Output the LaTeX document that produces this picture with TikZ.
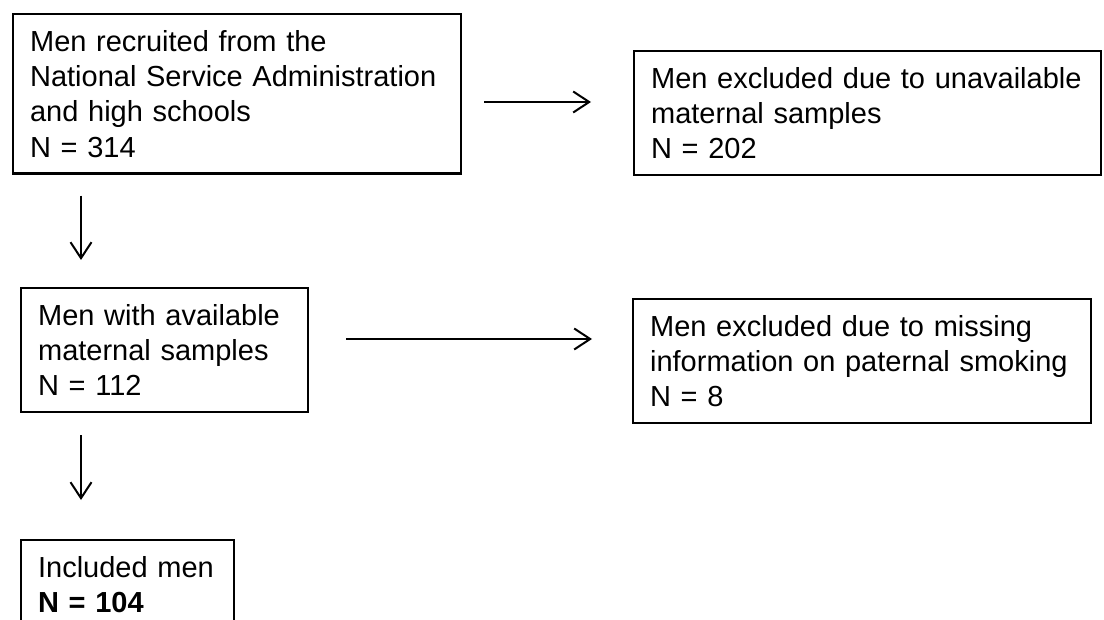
\documentclass[tikz,border=0pt]{standalone}
\usepackage{fontspec}
\setmainfont{Liberation Sans}
\usetikzlibrary{arrows.meta}
\tikzstyle{arrow} = [line width=2pt,-{Straight Barb[length=16pt,width=21pt]}]
\tikzstyle{flowbox} = [rectangle, draw=black, line width=2.2pt, inner xsep=17pt, inner ysep=16pt, align=left, anchor=north west, font=\fontsize{29}{35.4}\selectfont]

\begin{document}
\begin{tikzpicture}[x=1pt, y=-1pt]
\useasboundingbox (0,0) rectangle (1104,620);
\fill[white] (0,0) rectangle (1104,620);
\clip (0,0) rectangle (1104,620);
% Study flow
\node[flowbox, text width=414pt] (recruit) at (12,13) {Men recruited from the\\National Service Administration\\and high schools\\N = 314};
\node[flowbox, text width=433pt] (excl1) at (633,50) {Men excluded due to unavailable\\maternal samples\\N = 202};
\node[flowbox, text width=253pt] (avail) at (20,287) {Men with available\\maternal samples\\N = 112};
\node[flowbox, text width=424pt] (excl2) at (632,298) {Men excluded due to missing\\information on paternal smoking\\N = 8};
\node[flowbox, text width=179pt] (incl) at (20,539) {Included men\\\textbf{N = 104}};

\draw[arrow, shorten <=22pt, shorten >=42pt] (recruit.east |- 0,102) -- (excl1.west |- 0,102);
\draw[arrow, shorten <=21pt, shorten >=27pt] (recruit.south -| 81,0) -- (avail.north -| 81,0);
\draw[arrow, shorten <=37pt, shorten >=40pt] (avail.east |- 0,339) -- (excl2.west |- 0,339);
\draw[arrow, shorten <=22pt, shorten >=39pt] (avail.south -| 81,0) -- (incl.north -| 81,0);
\end{tikzpicture}
\end{document}
